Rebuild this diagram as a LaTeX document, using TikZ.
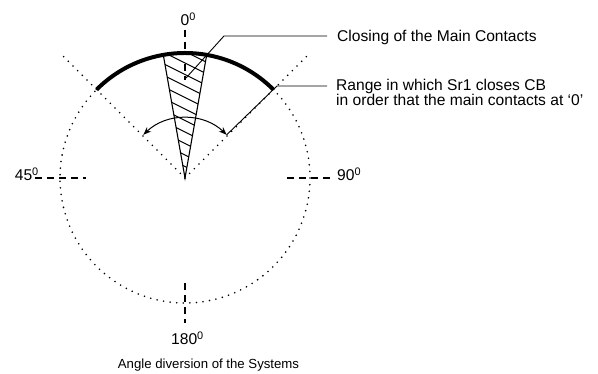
\documentclass[tikz,border=0pt]{standalone}
\usepackage{fontspec}
\setmainfont{Liberation Sans}
\usetikzlibrary{arrows.meta,calc}
\begin{document}
\begin{tikzpicture}[x=1pt,y=1pt,
  dotline/.style={line width=1.8pt,line cap=round,dash pattern=on 0pt off 6.6pt},
  axisdash/.style={line width=1.5pt,dash pattern=on 7pt off 5pt},
  lbl/.style={inner sep=0pt,font=\fontsize{15.6}{15}\selectfont},
  captext/.style={inner sep=0pt,font=\fontsize{13.2}{15}\selectfont},
  leader/.style={line width=0.9pt},
  thickarc/.style={line width=4pt},
  hatchline/.style={line width=1pt}]
\useasboundingbox (0,0) rectangle (598,374);
\coordinate (C) at (185,196);
% dotted circle and rays
\draw[dotline] (C) circle[radius=125];
\draw[dotline] (C) -- ($(C)+(45:172)$) coordinate (R45);
\draw[dotline] (C) -- ($(C)+(135:172)$) coordinate (R135);
% axis dashes
\coordinate (T1) at (185,344); \coordinate (T2) at (185,294);
\coordinate (L1) at (35,196);  \coordinate (L2) at (86,196);
\coordinate (Rr1) at (287,196); \coordinate (Rr2) at (332,196);
\coordinate (B1) at (185,91); \coordinate (B2) at (185,51);
\draw[axisdash] (T1) -- (T2);
\draw[axisdash] (L1) -- (L2);
\draw[axisdash] (Rr1) -- (Rr2);
\draw[axisdash] (B1) -- (B2);
% hatched sector
\coordinate (S1) at ($(C)+(80:125)$);
\coordinate (S2) at ($(C)+(100:125)$);
\fill[white] (C) -- (S1) arc[start angle=80,end angle=100,radius=125] -- cycle;
\begin{scope}
  \clip (C) -- (S1) arc[start angle=80,end angle=100,radius=125] -- cycle;
  \foreach \k in {1,...,12} {
    \draw[hatchline] (120,{196+\k*11.5+32.5}) -- (250,{196+\k*11.5-32.5});
  }
\end{scope}
\draw[line width=1.1pt,line join=miter] (C) -- (S1) arc[start angle=80,end angle=100,radius=125] -- cycle;
\draw[axisdash] (185,310) -- (T2);
% thick arc
\draw[thickarc] ($(C)+(45:125)$) coordinate (A45) arc[start angle=45,end angle=135,radius=125] coordinate (A135);
% double arrow arc
\draw[line width=1pt,{Stealth[length=8pt,width=6pt]}-{Stealth[length=8pt,width=6pt]}]
  ($(C)+(134:60)$) coordinate (ArL) arc[start angle=134,end angle=46,radius=60] coordinate (ArR);
% labels
\node[lbl,anchor=base west] (d0) at (180.5,348) {0\textsuperscript{0}};
\node[lbl,anchor=base east] (d45) at (39,193) {45\textsuperscript{0}};
\node[lbl,anchor=base west] (d90) at (337,193) {90\textsuperscript{0}};
\node[lbl,anchor=base west] (d180) at (171,29) {180\textsuperscript{0}};
\node[captext,anchor=base] (capt) at (208.5,5) {Angle diversion of the Systems};
% leaders and texts
\node[lbl,anchor=base west] (closing) at (337,332) {Closing of the Main Contacts};
\node[lbl,anchor=north west,align=left] (range) at (336,295) {Range in which Sr1 closes CB\\in order that the main contacts at ‘0’};
\coordinate (P1) at (186,296);
\coordinate (K1) at (224,338);
\coordinate (E1) at (327,338);
\draw[leader] (P1) -- (K1) -- (E1);
\coordinate (K2) at (277,288);
\coordinate (E2) at (327,288);
\draw[leader] (ArR) -- (K2) -- (E2);
\end{tikzpicture}
\end{document}
